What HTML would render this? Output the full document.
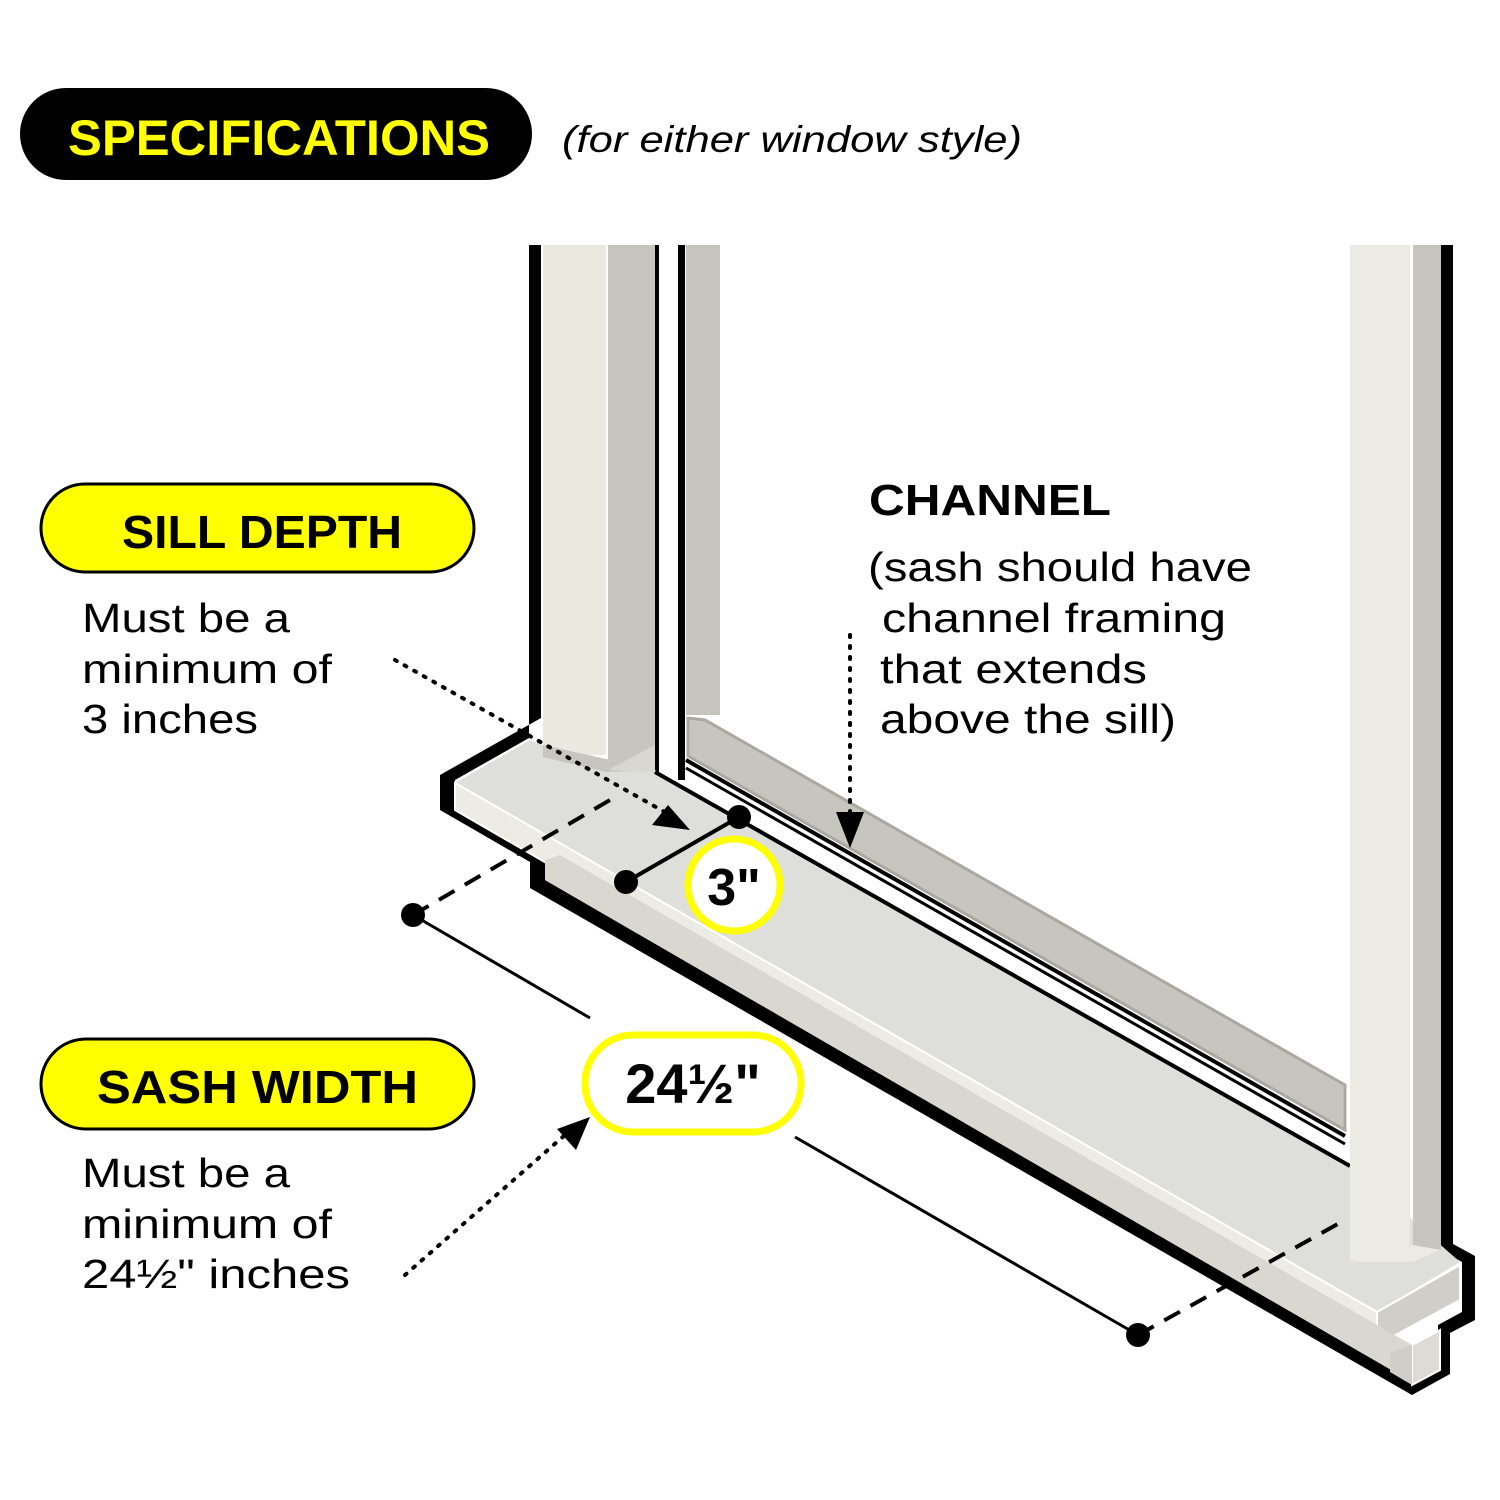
<!DOCTYPE html>
<html><head><meta charset="utf-8"><style>
html,body{margin:0;padding:0;background:#fff;}
svg{display:block;}
</style></head><body>
<svg width="1500" height="1500" viewBox="0 0 1500 1500" xmlns="http://www.w3.org/2000/svg" font-family="Liberation Sans, sans-serif">
<rect width="1500" height="1500" fill="#fff"/>

<!-- black outline of sill + posts -->
<path d="M529 245 L541 245 L541 718 L440 775 L440 810 L530 862 L530 888 L1412 1395 L1450 1374 L1450 1333 L1475 1320 L1475 1256 L1453 1244 L1453 245 L1441 245 L1441 1250 L1462 1262 L1462 1312 L1438 1325 L1438 1368 L1412 1382 L545 880 L545 855 L455 803 L455 780 L529 738 Z" fill="#000"/>

<!-- inner sash area -->
<path d="M658 245 L1350 245 L1350 1165 L658 772 Z" fill="#fff"/>

<!-- left post -->
<rect x="543" y="245" width="63" height="510" fill="#e9e9e0"/>
<rect x="608" y="245" width="47" height="530" fill="#c6c6be"/>
<rect x="655" y="245" width="4" height="530" fill="#000"/>
<!-- sash stile -->
<rect x="678" y="245" width="7" height="535" fill="#000"/>
<rect x="686" y="245" width="34" height="470" fill="#c6c6be"/>

<!-- channel bar -->
<path d="M688 718 L705 720 L1345 1085 L1345 1130 L688 756 Z" fill="#c6c6be" stroke="#a9a9a2" stroke-width="3"/>
<path d="M686 760 L1345 1136" stroke="#000" stroke-width="4"/>
<path d="M686 768 L1345 1144" stroke="#000" stroke-width="3"/>

<!-- sill top -->
<path d="M455 783 L530 740 L543 745 L655 770 L1350 1165 L1460 1262 L1377 1312 Z" fill="#dededa"/>
<path d="M543 745 L543 757 L606 772 L655 770 Z" fill="#c6c6be"/>
<path d="M608 770 L655 745 L655 772 Z" fill="#d8d8d0"/>
<path d="M655 772 L1350 1166" stroke="#000" stroke-width="4"/>
<!-- sill front face -->
<path d="M455 783 L1377 1312 L1377 1345 L455 810 Z" fill="#ececE4" stroke="#fff" stroke-width="2"/>
<!-- sill right end -->
<path d="M1377 1312 L1460 1265 L1460 1300 L1377 1345 Z" fill="#cfcfc8" stroke="#fff" stroke-width="2"/>
<!-- apron -->
<path d="M545 860 L545 880 L1412 1382 L1412 1345 L560 855 Z" fill="#d8d8d1"/>
<path d="M1412 1345 L1440 1330 L1440 1370 L1412 1385 Z" fill="#dcdcd5" stroke="#fff" stroke-width="2"/>
<path d="M1390 1352 L1412 1345 L1412 1385 L1390 1372 Z" fill="#cfcfc8"/>

<!-- right post -->
<rect x="1350" y="245" width="60" height="1015" fill="#ebebe4"/>
<rect x="1413" y="245" width="28" height="1005" fill="#c6c6be"/>
<path d="M1350 1262 L1413 1262 L1441 1250 L1413 1245 Z" fill="#ebebe4"/>

<!-- dimension lines -->
<path d="M413 915 L610 800" stroke="#000" stroke-width="4" stroke-dasharray="18 12"/>
<path d="M1138 1335 L1345 1220" stroke="#000" stroke-width="4" stroke-dasharray="18 12"/>
<path d="M413 915 L590 1018 M795 1137 L1138 1335" stroke="#000" stroke-width="3"/>
<path d="M626 882 L739 817" stroke="#000" stroke-width="4"/>
<circle cx="413" cy="915" r="12"/><circle cx="1138" cy="1335" r="12"/>
<circle cx="626" cy="882" r="12"/><circle cx="739" cy="817" r="12"/>

<!-- 3" circle -->
<circle cx="734" cy="885" r="46" fill="#fff" stroke="#ffff00" stroke-width="7"/>
<text x="734" y="905" text-anchor="middle" font-size="52" font-weight="bold">3"</text>

<!-- 24 1/2 pill -->
<rect x="585" y="1035" width="216" height="97" rx="48" fill="#fff" stroke="#ffff00" stroke-width="7"/>
<text x="693" y="1103" text-anchor="middle" font-size="56" font-weight="bold">24½"</text>

<!-- dotted arrows -->
<path d="M395 660 L670 815" stroke="#000" stroke-width="4" stroke-dasharray="2 9" stroke-linecap="round"/>
<path d="M690 830 L652 825 L668 805 Z"/>
<path d="M850 635 L850 815" stroke="#000" stroke-width="4" stroke-dasharray="2 9" stroke-linecap="round"/>
<path d="M850 848 L836 812 L864 812 Z"/>
<path d="M405 1275 L565 1135" stroke="#000" stroke-width="4" stroke-dasharray="2 9" stroke-linecap="round"/>
<path d="M590 1117 L557 1129 L576 1150 Z"/>

<!-- header -->
<rect x="20" y="88" width="512" height="92" rx="46" fill="#000"/>
<text x="68" y="155" font-size="50" font-weight="bold" fill="#ffff00" textLength="422" lengthAdjust="spacingAndGlyphs">SPECIFICATIONS</text>
<text x="562" y="152" font-size="37" font-style="italic" fill="#000" textLength="460" lengthAdjust="spacingAndGlyphs">(for either window style)</text>

<!-- sill depth -->
<rect x="41" y="484" width="433" height="88" rx="44" fill="#ffff00" stroke="#000" stroke-width="3"/>
<text x="122" y="548" font-size="46" font-weight="bold" textLength="280" lengthAdjust="spacingAndGlyphs">SILL DEPTH</text>
<g font-size="41" lengthAdjust="spacingAndGlyphs">
<text x="82" y="632" textLength="208" lengthAdjust="spacingAndGlyphs">Must be a</text>
<text x="82" y="683" textLength="250" lengthAdjust="spacingAndGlyphs">minimum of</text>
<text x="82" y="733" textLength="176" lengthAdjust="spacingAndGlyphs">3 inches</text>
</g>

<!-- sash width -->
<rect x="41" y="1039" width="433" height="90" rx="45" fill="#ffff00" stroke="#000" stroke-width="3"/>
<text x="97" y="1103" font-size="46" font-weight="bold" textLength="321" lengthAdjust="spacingAndGlyphs">SASH WIDTH</text>
<g font-size="41">
<text x="82" y="1187" textLength="208" lengthAdjust="spacingAndGlyphs">Must be a</text>
<text x="82" y="1238" textLength="250" lengthAdjust="spacingAndGlyphs">minimum of</text>
<text x="82" y="1288" textLength="268" lengthAdjust="spacingAndGlyphs">24½" inches</text>
</g>

<!-- channel -->
<text x="869" y="515" font-size="44" font-weight="bold" textLength="242" lengthAdjust="spacingAndGlyphs">CHANNEL</text>
<g font-size="41">
<text x="868" y="581" textLength="384" lengthAdjust="spacingAndGlyphs">(sash should have</text>
<text x="882" y="632" textLength="344" lengthAdjust="spacingAndGlyphs">channel framing</text>
<text x="880" y="683" textLength="267" lengthAdjust="spacingAndGlyphs">that extends</text>
<text x="880" y="733" textLength="296" lengthAdjust="spacingAndGlyphs">above the sill)</text>
</g>
</svg>
</body></html>
